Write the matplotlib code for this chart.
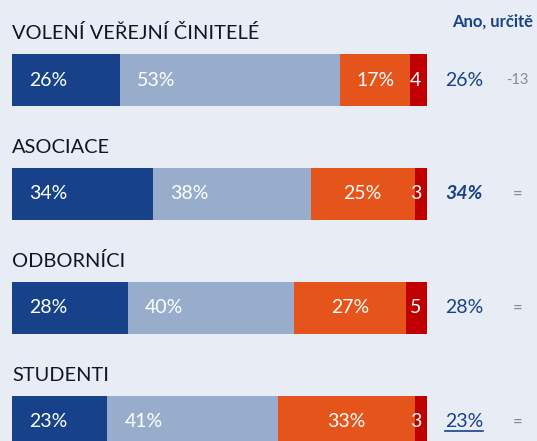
import matplotlib
matplotlib.use('Agg')
import matplotlib.pyplot as plt
from matplotlib.lines import Line2D

# data
groups = ['VOLENÍ VEŘEJNÍ ČINITELÉ', 'ASOCIACE', 'ODBORNÍCI', 'STUDENTI']
ano_urcite = [26, 34, 28, 23]
spise_ano = [53, 38, 40, 41]
spise_ne = [17, 25, 27, 33]
urcite_ne = [4, 3, 5, 3]
zmena = ['-13', '=', '=', '=']
col_title = 'Ano, určitě'

bg = '#E8ECF5'
c_dark = '#17428A'
c_light = '#97ADCB'
c_orange = '#E5541B'
c_red = '#C00000'
c_text = '#141428'
c_grey = '#8A8A8A'

plt.rcParams['font.family'] = ['Lato', 'DejaVu Sans']

fig = plt.figure(figsize=(5.37, 4.41), dpi=100)
fig.patch.set_facecolor(bg)
ax = fig.add_axes([0, 0, 1, 1])
ax.set_facecolor(bg)
ax.set_xlim(-12 / 4.15, 525 / 4.15)
ax.set_ylim(3.167, -0.702)
ax.axis('off')

h = 0.456
rows = range(len(groups))
for i in rows:
    left = 0
    for vals, col in [(ano_urcite, c_dark), (spise_ano, c_light),
                      (spise_ne, c_orange), (urcite_ne, c_red)]:
        ax.barh(i, vals[i], left=left, height=h, color=col, linewidth=0)
        left += vals[i]

    a, b, c, d = ano_urcite[i], spise_ano[i], spise_ne[i], urcite_ne[i]
    fs = 14
    ax.text(4.1, i, f'{a}%', color='white', fontsize=fs, va='center', ha='left')
    ax.text(a + 4.1, i, f'{b}%', color='white', fontsize=fs, va='center', ha='left')
    ax.text(a + b + c / 2, i, f'{c}%', color='white', fontsize=fs, va='center', ha='center')
    ax.text(100 - 1.4, i, f'{d}', color='white', fontsize=fs, va='center', ha='right')

    ax.text(0, i - h / 2 - 0.13, groups[i], color=c_text, fontsize=14.4,
            va='baseline', ha='left')

    style = 'normal'
    weight = 'normal'
    if i == 1:
        style = 'italic'
        weight = 'bold'
    t = ax.text(108.9, i, f'{a}%', color=c_dark, fontsize=14, va='center',
                ha='center', style=style, weight=weight)
    if i == 3:
        fig.canvas.draw()
        bb = t.get_window_extent()
        y0 = bb.y0 - 1
        fig.add_artist(Line2D([bb.x0 / fig.dpi / 5.37, bb.x1 / fig.dpi / 5.37],
                              [y0 / fig.dpi / 4.41, y0 / fig.dpi / 4.41],
                              color=c_dark, linewidth=1.2,
                              transform=fig.transFigure))
    ax.text(121.8, i, zmena[i], color=c_grey,
            fontsize=10.5 if zmena[i] != '=' else 12, va='center', ha='center')

ax.text(108.9 + 7.0, -0.509, col_title, color=c_dark, fontsize=12,
        weight='bold', va='center', ha='center')

fig.savefig('out.png', dpi=100, facecolor=bg)
